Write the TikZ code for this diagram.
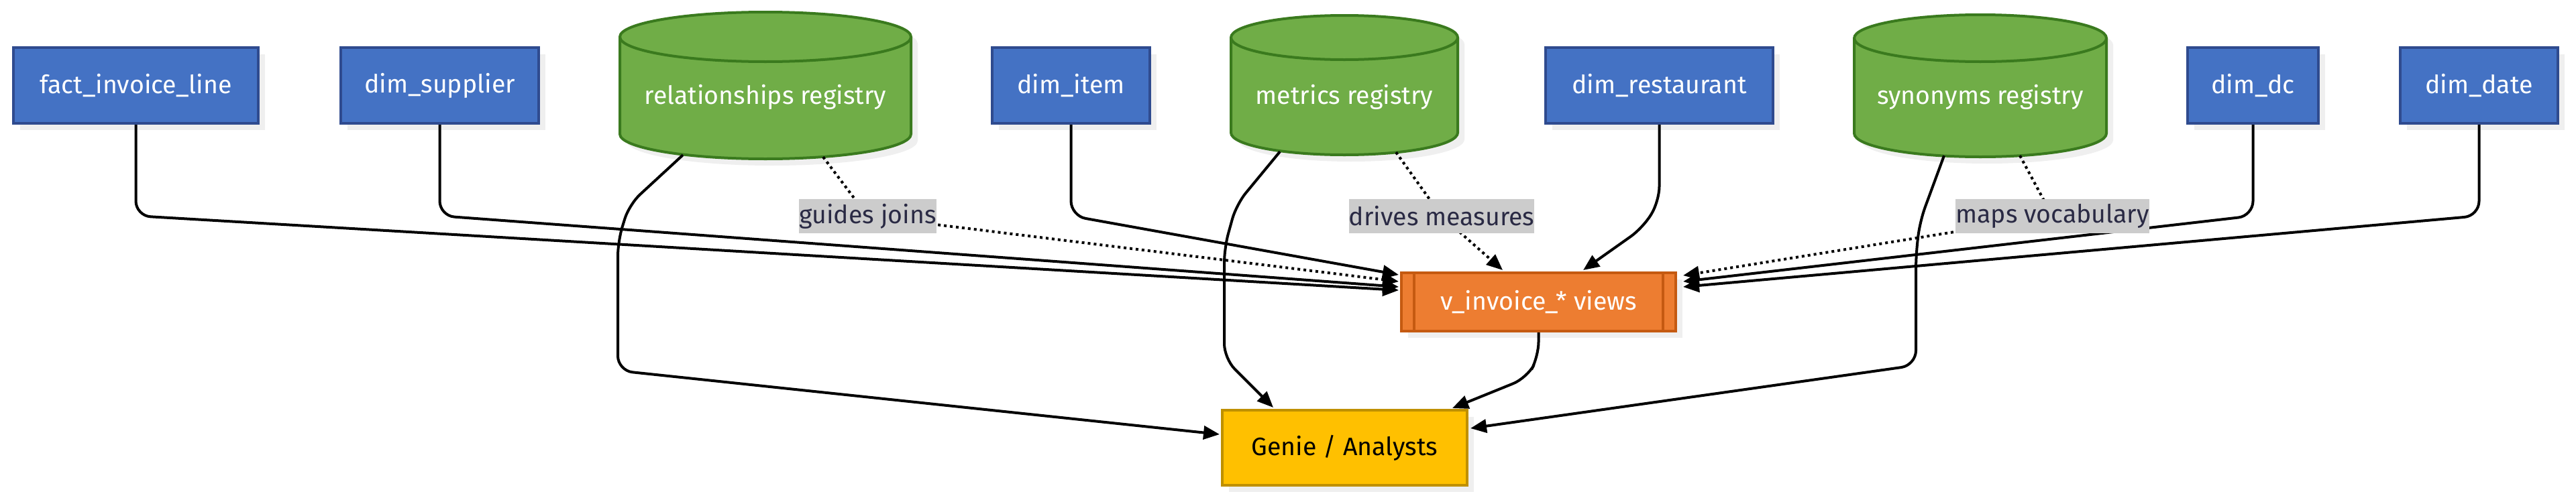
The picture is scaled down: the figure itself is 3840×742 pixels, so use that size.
\documentclass[tikz,border=0pt]{standalone}
\usepackage{fontspec}
\setmainfont{Fira Sans}
\usetikzlibrary{arrows.meta}
\definecolor{bluef}{HTML}{4472C4}
\definecolor{blued}{HTML}{2F4B8F}
\definecolor{greenf}{HTML}{70AD47}
\definecolor{greend}{HTML}{3A7A1E}
\definecolor{orangef}{HTML}{ED7D31}
\definecolor{oranged}{HTML}{C55A11}
\definecolor{yellowf}{HTML}{FFC000}
\definecolor{yellowd}{HTML}{BF9000}
\definecolor{shadowc}{HTML}{EFEFEF}
\definecolor{lblbg}{HTML}{CCCCCC}
\definecolor{lbltext}{HTML}{2A2A44}
\newcommand{\cylpath}[6]{% L R T B ry rx
  (#1,#3+#5) -- (#1,#4-#5) arc[start angle=180,end angle=360,x radius=#6pt,y radius=#5pt]
  -- (#2,#3+#5) arc[start angle=0,end angle=180,x radius=#6pt,y radius=#5pt] -- cycle}
\newcommand{\cylrim}[4]{% L T ry rx
  (#1,#2+#3) arc[start angle=180,end angle=360,x radius=#4pt,y radius=#3pt]}
\tikzset{
  every node/.style={font=\fontsize{37.5}{45}\selectfont},
  shadowed/.style={preaction={fill=shadowc, draw=none, transform canvas={shift={(10pt,-10pt)}}}},
  tbl/.style={rectangle, draw=blued, fill=bluef, line width=4pt, text=white, inner sep=0pt, minimum height=113pt, shadowed},
  cyltext/.style={rectangle, draw=none, inner sep=0pt, text=white},
  cylfill/.style={fill=greenf, draw=greend, line width=4pt},
  viewbox/.style={rectangle, draw=oranged, fill=orangef, line width=4pt, text=white, inner sep=0pt, minimum width=409pt, minimum height=87pt, shadowed},
  genbox/.style={rectangle, draw=yellowd, fill=yellowf, line width=4pt, text=black, inner sep=0pt, minimum width=365pt, minimum height=112pt, shadowed},
  lbl/.style={rectangle, fill=lblbg, text=lbltext, inner xsep=0pt, inner ysep=0pt, minimum height=51pt},
  edge/.style={line width=4pt, rounded corners=22pt, -{Triangle[length=24pt,width=20pt]}},
  dotedge/.style={line width=4pt, dash pattern=on 4pt off 5pt, -{Triangle[length=24pt,width=20pt]}}
}
\begin{document}
\begin{tikzpicture}[x=1pt,y=-1pt]
\fill[white] (0,0) rectangle (3840,742);
\useasboundingbox (0,0) rectangle (3840,742);

% table boxes
\node[tbl, minimum width=365pt] (fact) at (202.5,127.5) {fact\_invoice\_line};
\node[tbl, minimum width=295pt] (supp) at (655.5,127.5) {dim\_supplier};
\node[tbl, minimum width=235pt] (item) at (1596.5,127.5) {dim\_item};
\node[tbl, minimum width=339pt] (rest) at (2473.5,127.5) {dim\_restaurant};
\node[tbl, minimum width=195pt] (dc) at (3358.5,127.5) {dim\_dc};
\node[tbl, minimum width=235pt] (date) at (3695.5,127.5) {dim\_date};

% cylinders
\fill[shadowc, shift={(10pt,-10pt)}] \cylpath{924}{1358}{18}{237}{37}{217};
\path[cylfill] \cylpath{924}{1358}{18}{237}{37}{217};
\draw[greend, line width=4pt] \cylrim{924}{18}{37}{217};
\node[cyltext, minimum width=434pt, minimum height=184pt] (rel) at (1141,145) {relationships registry};

\fill[shadowc, shift={(10pt,-10pt)}] \cylpath{1835}{2173}{23}{231}{33}{169};
\path[cylfill] \cylpath{1835}{2173}{23}{231}{33}{169};
\draw[greend, line width=4pt] \cylrim{1835}{23}{33}{169};
\node[cyltext, minimum width=338pt, minimum height=172pt] (met) at (2004,145) {metrics registry};

\fill[shadowc, shift={(10pt,-10pt)}] \cylpath{2764}{3140}{22}{234}{35}{188};
\path[cylfill] \cylpath{2764}{3140}{22}{234}{35}{188};
\draw[greend, line width=4pt] \cylrim{2764}{22}{35}{188};
\node[cyltext, minimum width=376pt, minimum height=178pt] (syn) at (2952,145) {synonyms registry};

% views and genie
\node[viewbox] (views) at (2293.5,450.5) {v\_invoice\_* views};
\draw[oranged, line width=4pt] ([xshift=21pt]views.north west) -- ([xshift=21pt]views.south west);
\draw[oranged, line width=4pt] ([xshift=-21pt]views.north east) -- ([xshift=-21pt]views.south east);
\node[genbox] (genie) at (2004.5,668) {Genie / Analysts};

% label anchor points
\coordinate (gjc) at (1293.5,322.5);
\coordinate (dmc) at (2149,322.5);
\coordinate (mvc) at (3059.5,322.5);

% solid edges into views
\draw[edge] (fact.south) -- (202.5,322) -- ([shift={(-2pt,-28pt)}]views.north west);
\draw[edge] (supp.south) -- (655.5,322) -- ([shift={(-2pt,-23pt)}]views.north west);
\draw[edge] (item.south) -- (1596.5,322) -- ([shift={(-2pt,-5pt)}]views.north west);
\draw[edge] (rest.south) -- (2473.5,300) -- (2449,340) -- ([shift={(66.5pt,2pt)}]views.north);
\draw[edge] (dc.south) -- (3358.5,322) -- ([shift={(9pt,-15pt)}]views.north east);
\draw[edge] (date.south) -- (3695.5,322) -- ([shift={(9pt,-23pt)}]views.north east);

% dotted edges
\draw[dotedge] ([shift={(86pt,3pt)}]rel.south) -- (gjc) -- ([shift={(-2pt,-15pt)}]views.north west);
\draw[dotedge] ([shift={(77pt,4pt)}]met.south) -- (dmc) -- ([shift={(-53.5pt,2pt)}]views.north);
\draw[dotedge] ([shift={(59pt,2pt)}]syn.south) -- (mvc) -- ([shift={(9pt,-6pt)}]views.north east);

% edges into genie
\draw[edge] ([shift={(-123pt,6pt)}]rel.south) -- (938,305) -- (921,360) -- (921,553) -- ([shift={(-2pt,-38pt)}]genie.north west);
\draw[edge] ([shift={(-96pt,5pt)}]met.south) -- (1843,305) -- (1825,370) -- (1825,535) -- ([shift={(-106.5pt,2pt)}]genie.north);
\draw[edge] (views.south) -- (2293.5,532) -- (2276,564) -- ([shift={(-24pt,1pt)}]genie.north east);
\draw[edge] ([shift={(-54pt,2pt)}]syn.south) -- (2862,330) -- (2856,380) -- (2856,545) -- ([shift={(3pt,-29pt)}]genie.north east);

% labels
\node[lbl] (gj) at (gjc) {guides joins};
\node[lbl] (dm) at (dmc) {drives measures};
\node[lbl] (mv) at (mvc) {maps vocabulary};
\end{tikzpicture}
\end{document}
